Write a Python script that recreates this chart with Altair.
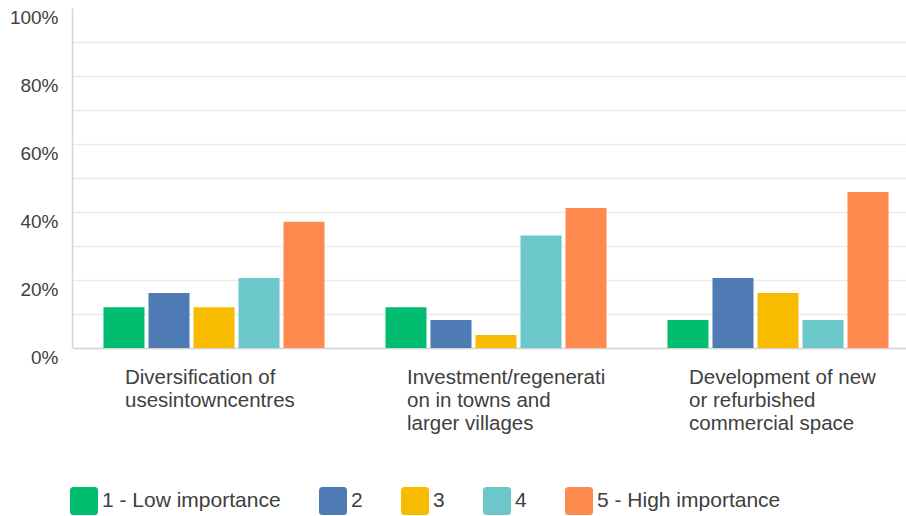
import altair as alt
import pandas as pd

categories = [
    "Diversification of|usesintowncentres",
    "Investment/regenerati|on in towns and|larger villages",
    "Development of new|or refurbished|commercial space",
]
ratings = ["1 - Low importance", "2", "3", "4", "5 - High importance"]
diversification = [0.120, 0.162, 0.120, 0.206, 0.371]
investment = [0.120, 0.082, 0.038, 0.331, 0.412]
development = [0.082, 0.206, 0.162, 0.082, 0.459]
colors = ["#00BD70", "#4E7BB4", "#F7BC00", "#6CC7CA", "#FF8A4F"]
y_ticks = [0.0, 0.1, 0.2, 0.3, 0.4, 0.5, 0.6, 0.7, 0.8, 0.9, 1.0]

rows = []
for cat, vals in zip(categories, [diversification, investment, development]):
    for r, v in zip(ratings, vals):
        rows.append({"category": cat, "rating": r, "value": v})
df = pd.DataFrame(rows)

rounded_square = "M-0.75,-1H0.75Q1,-1 1,-0.75V0.75Q1,1 0.75,1H-0.75Q-1,1 -1,0.75V-0.75Q-1,-1 -0.75,-1Z"

chart = alt.Chart(df).mark_bar().encode(
    x=alt.X(
        "category:N",
        sort=categories,
        scale=alt.Scale(range=[1, 847], paddingInner=0.202, paddingOuter=0.101),
        axis=alt.Axis(
            title=None,
            labelExpr="split(datum.label, '|')",
            labelAlign="left",
            labelBaseline="top",
            labelOffset=-89,
            labelPadding=19,
            labelFontSize=20.5,
            labelLineHeight=23,
            labelColor="#404040",
            labelAngle=0,
            labelLimit=0,
            labelOverlap=False,
            labelFlush=False,
            ticks=False,
            domainColor="#d4d4d4",
            domainWidth=1.5,
            grid=False,
        ),
    ),
    xOffset=alt.XOffset(
        "rating:N",
        sort=ratings,
        scale=alt.Scale(paddingInner=0.0889, paddingOuter=0.0444),
    ),
    y=alt.Y(
        "value:Q",
        scale=alt.Scale(domain=[0, 1]),
        axis=alt.Axis(
            title=None,
            values=y_ticks,
            format=".0%",
            labelExpr="round(datum.value*100) % 20 == 0 ? datum.label : ''",
            labelFontSize=19,
            labelColor="#404040",
            labelPadding=14,
            labelOffset=9,
            ticks=False,
            domainColor="#d4d4d4",
            domainWidth=1.5,
            gridColor="#ebebeb",
            gridWidth=1.5,
            gridOpacity=alt.condition("datum.value >= 1", alt.value(0), alt.value(1)),
        ),
    ),
    color=alt.Color(
        "rating:N",
        sort=ratings,
        scale=alt.Scale(domain=ratings, range=colors),
        legend=alt.Legend(
            title=None,
            orient="none",
            legendX=-2,
            legendY=479,
            direction="horizontal",
            columns=5,
            symbolType=rounded_square,
            symbolSize=784,
            symbolStrokeWidth=0,
            labelFontSize=21,
            labelOffset=4,
            labelColor="#404040",
            labelLimit=0,
            columnPadding=38,
        ),
    ),
).properties(
    width=834,
    height=340,
    autosize=alt.AutoSizeParams(type="none"),
    padding={"left": 72, "top": 8, "right": 0, "bottom": 168},
).configure(
    font="Liberation Sans",
).configure_view(
    stroke=None,
)

chart.save("out.html", embed_options={"renderer": "svg", "actions": False})
